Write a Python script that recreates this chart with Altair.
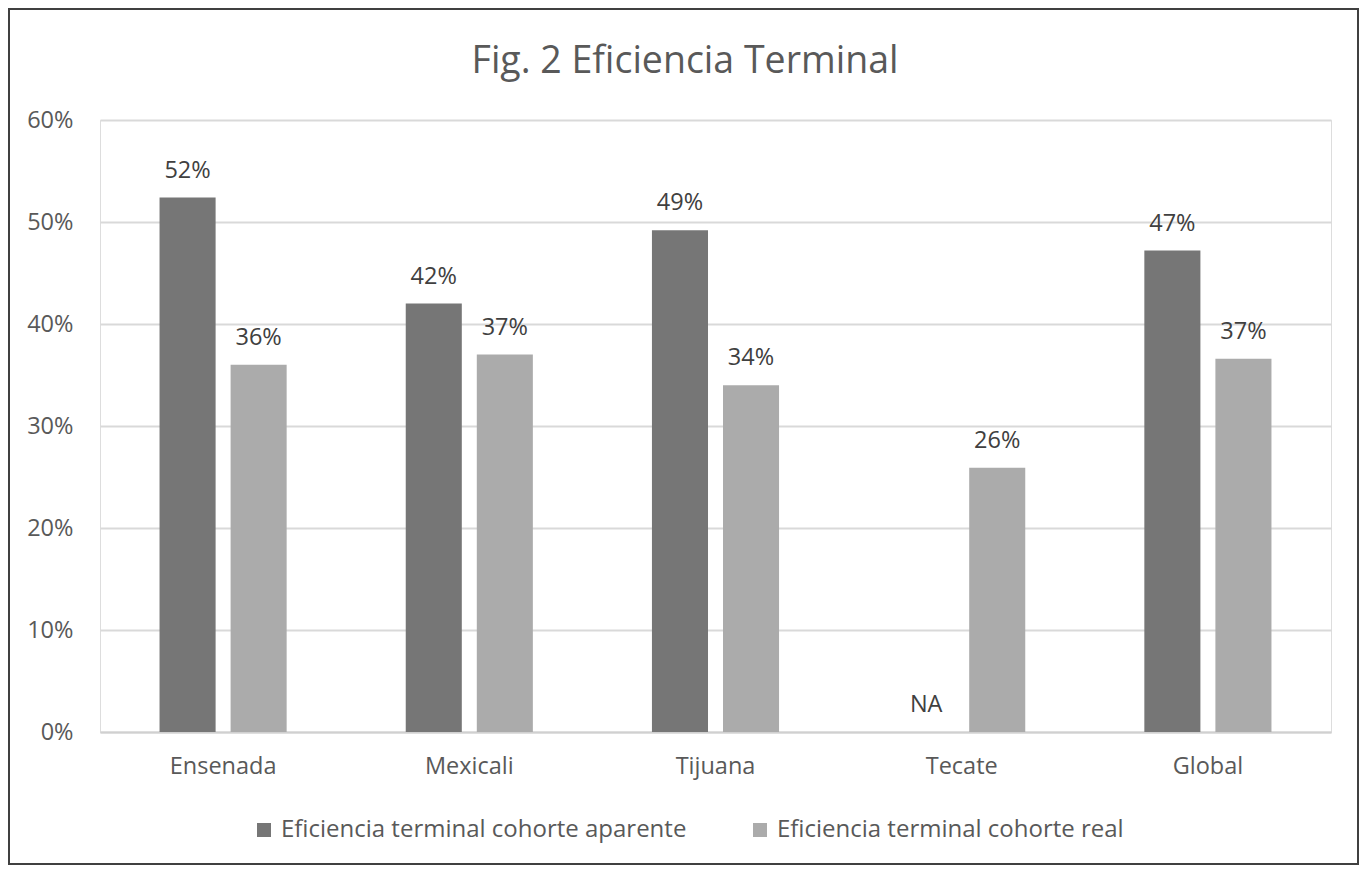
import altair as alt
import pandas as pd

FONT = "Open Sans"

categories = ["Ensenada", "Mexicali", "Tijuana", "Tecate", "Global"]
series = ["Eficiencia terminal cohorte aparente", "Eficiencia terminal cohorte real"]
aparente = [0.524, 0.420, 0.492, None, 0.472]
real = [0.360, 0.370, 0.340, 0.259, 0.366]
colors = ["#767676", "#ababab"]
y_ticks = [0, 0.1, 0.2, 0.3, 0.4, 0.5, 0.6]
title_text = "Fig. 2 Eficiencia Terminal"

rows = []
for i, cat in enumerate(categories):
    for name, vals in ((series[0], aparente), (series[1], real)):
        v = vals[i]
        rows.append({
            "cat": cat,
            "serie": name,
            "valor": v,
            "ypos": v if v is not None else 0,
            "label": f"{int(v * 100 + 0.5)}%" if v is not None else "NA",
        })
df = pd.DataFrame(rows)

W, H = 1231, 612

base = alt.Chart(df).encode(
    x=alt.X("cat:N", sort=categories, title=None,
            scale=alt.Scale(paddingInner=0, paddingOuter=0),
            axis=alt.Axis(labelAngle=0, labelFontSize=23.5, labelColor="#595959",
                          labelFont=FONT, labelPadding=22, ticks=False,
                          domainColor="#d0d0d0", domainWidth=2)),
    xOffset=alt.XOffset("serie:N", sort=series,
                        scale=alt.Scale(paddingInner=0.211, paddingOuter=0.838)),
)

bars = base.mark_bar().encode(
    y=alt.Y("valor:Q", title=None,
            scale=alt.Scale(domain=[0, 0.6]),
            axis=alt.Axis(format=".0%", values=y_ticks, domain=False, ticks=False,
                          gridColor="#d9d9d9", gridWidth=2, labelFontSize=23.5,
                          labelFont=FONT, labelColor="#595959", labelPadding=27)),
    color=alt.Color("serie:N", sort=series, title=None,
                    scale=alt.Scale(domain=series, range=colors),
                    legend=alt.Legend(orient="none", direction="horizontal",
                                      legendX=152, legendY=698,
                                      symbolType="square", symbolSize=196,
                                      symbolStrokeWidth=0, symbolOpacity=1,
                                      labelFontSize=24, labelFont=FONT,
                                      labelColor="#595959", columnPadding=61,
                                      labelOffset=5, labelLimit=0)),
)

text = base.mark_text(baseline="alphabetic", dy=-20, fontSize=23.5, font=FONT,
                      color="#404040").encode(
    y=alt.Y("ypos:Q"),
    text="label:N",
)

decor = pd.DataFrame({"t": [title_text]})

title = alt.Chart(decor).mark_text(
    fontSize=37.5, font=FONT, color="#595959", align="center", baseline="alphabetic"
).encode(x=alt.value(585), y=alt.value(-47), text="t:N")

frame = alt.Chart(decor).mark_rect(
    fill="transparent", stroke="#404040", strokeWidth=2
).encode(
    x=alt.value(-91), x2=alt.value(1258), y=alt.value(-111), y2=alt.value(744)
)

chart = alt.layer(bars, text, title, frame).properties(
    width=W, height=H,
    autosize=alt.AutoSizeParams(type="none"),
    padding={"left": 92, "top": 112, "right": 28, "bottom": 133},
).configure_view(stroke=None).configure(background="white")

chart.save("out.html", embed_options={"renderer": "svg", "actions": False})
